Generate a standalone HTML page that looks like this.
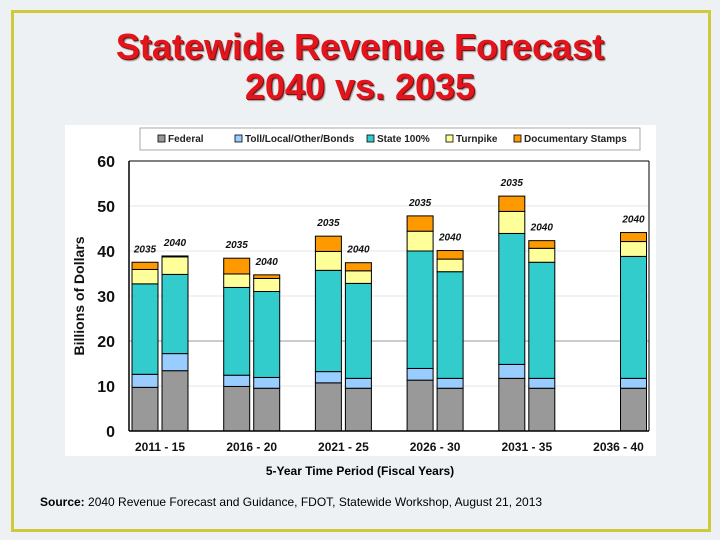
<!DOCTYPE html>
<html><head><meta charset="utf-8"><style>
body{margin:0;width:720px;height:540px;background:#edf1f4;position:relative;overflow:hidden;font-family:"Liberation Sans",sans-serif}
.frame{position:absolute;left:11px;top:10px;width:694px;height:516px;border:3px solid #cfca3c}
.title{position:absolute;left:0;width:720px;text-align:center;color:#e3141b;font-weight:bold;font-size:36px;text-shadow:1px 1px 0 #7a1010,2px 2px 1px #9a9a9a;line-height:40px}
.xt{position:absolute;left:0;width:720px;top:464px;text-align:center;font-size:12px;font-weight:bold}
.src{position:absolute;left:40px;top:495px;font-size:12px}
</style></head><body>
<div class="frame"></div>
<div class="title" style="top:27px">Statewide Revenue Forecast<br>2040 vs. 2035</div>
<svg id="chart" width="720" height="540" style="position:absolute;left:0;top:0"></svg>
<div class="xt">5-Year Time Period (Fiscal Years)</div>
<div class="src"><b>Source:</b> 2040 Revenue Forecast and Guidance, FDOT, Statewide Workshop, August 21, 2013</div>
<script>
const categories=["2011 - 15","2016 - 20","2021 - 25","2026 - 30","2031 - 35","2036 - 40"];
const seriesNames=["Federal","Toll/Local/Other/Bonds","State 100%","Turnpike","Documentary Stamps"];
const colors=["#999999","#99ccff","#33cccc","#ffff99","#ff9900"];
const federal2035=[9.7,9.9,10.7,11.3,11.7,null];
const toll2035=[2.9,2.5,2.5,2.6,3.1,null];
const state2035=[20.1,19.5,22.5,26.1,29.1,null];
const turnpike2035=[3.2,3.0,4.2,4.4,4.9,null];
const docstamps2035=[1.6,3.5,3.4,3.4,3.4,null];
const federal2040=[13.4,9.5,9.5,9.5,9.5,9.5];
const toll2040=[3.8,2.4,2.2,2.2,2.2,2.2];
const state2040=[17.6,19.1,21.1,23.7,25.8,27.1];
const turnpike2040=[3.9,2.9,2.8,2.8,3.1,3.3];
const docstamps2040=[0.2,0.8,1.8,1.9,1.7,2.0];
const yTicks=[0,10,20,30,40,50,60];
const svg=document.getElementById('chart');const NS="http://www.w3.org/2000/svg";
function mk(t,a,p){const e=document.createElementNS(NS,t);for(const k in a)e.setAttribute(k,a[k]);(p||svg).appendChild(e);return e;}
const y0=431,ppu=4.5;const y=v=>y0-v*ppu;const cx=i=>160+91.7*i;
const bg=mk('rect',{x:65,y:125,width:591,height:331,fill:'#fff'});


const lg=mk('rect',{x:140,y:128,width:500,height:22,fill:'#fff',stroke:'#aaa'});


const lx=[158,235,367,446,514];
seriesNames.forEach((n,i)=>{
 const g=mk('g',{});
 
 
 mk('rect',{x:lx[i],y:135,width:7,height:7,fill:colors[i],stroke:'#000','stroke-width':0.8},g);
 const t=mk('text',{x:lx[i]+10,y:142,'font-size':10,'font-weight':'bold',fill:'#222'},g);t.textContent=n;
});
yTicks.forEach(v=>{
 if(v>0){const gl=mk('line',{x1:129,x2:649,y1:y(v),y2:y(v),stroke:v%20===0&&v<=30?'#999':'#e6e6e6','stroke-width':1});
 
 }
 const t=mk('text',{x:115,y:y(v)+6,'text-anchor':'end','font-size':16,'font-weight':'bold',fill:'#111'});
 
 
 t.textContent=v;
});
mk('line',{x1:129,x2:129,y1:161,y2:431,stroke:'#000','stroke-width':1.5});
mk('line',{x1:649,x2:649,y1:161,y2:431,stroke:'#000','stroke-width':1});
mk('line',{x1:129,x2:649,y1:161,y2:161,stroke:'#000','stroke-width':1});
const yt=mk('text',{x:0,y:0,transform:'translate(84,296) rotate(-90)','text-anchor':'middle','font-size':14,'font-weight':'bold',fill:'#111'});


yt.textContent='Billions of Dollars';
const s35=[federal2035,toll2035,state2035,turnpike2035,docstamps2035];
const s40=[federal2040,toll2040,state2040,turnpike2040,docstamps2040];
categories.forEach((c,i)=>{
 [[s35,-28,'2035'],[s40,2,'2040']].forEach(([S,off,lab])=>{
  if(S[0][i]==null)return;
  let acc=0;const x=cx(i)+off;
  S.forEach((ser,k)=>{
   const v=ser[i];
   const r=mk('rect',{x:x,y:y(acc+v),width:26,height:v*ppu,fill:colors[k],stroke:'#000','stroke-width':1});
   
   
   acc+=v;
  });
  const t=mk('text',{x:x+13,y:y(acc)-10,'text-anchor':'middle','font-size':10,'font-weight':'bold','font-style':'italic',fill:'#111'});
  
  
  t.textContent=lab;
 });
 const t=mk('text',{x:cx(i),y:451,'text-anchor':'middle','font-size':12,'font-weight':'bold',fill:'#111'});
 
 
 t.textContent=c;
});
mk('line',{x1:129,x2:649,y1:431,y2:431,stroke:'#000','stroke-width':1.5});
</script>
</body></html>
